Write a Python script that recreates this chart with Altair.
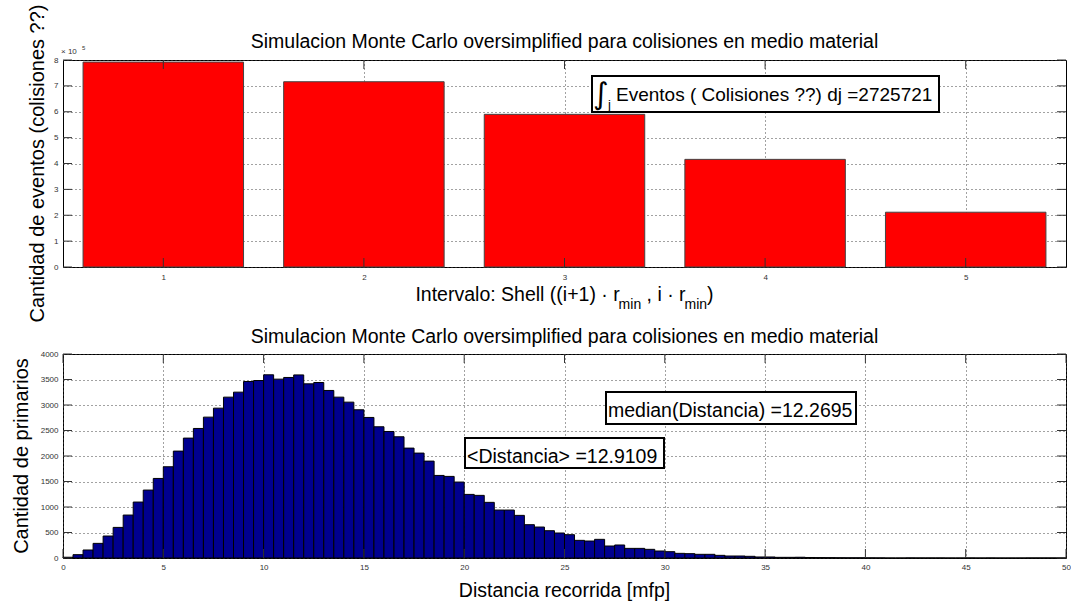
import altair as alt
import pandas as pd
import numpy as np

FONT = "Liberation Sans"

# ---------------- data ----------------
shell_index = [1, 2, 3, 4, 5]
shell_events = [792000, 716000, 590000, 416000, 211721]
top_x_ticks = [1, 2, 3, 4, 5]
top_y_ticks = [0, 100000, 200000, 300000, 400000, 500000, 600000, 700000, 800000]

hist_bin_width = 0.5
hist_counts = [
    15, 65, 157, 287, 431, 600, 842, 1097, 1332, 1560,
    1789, 2096, 2351, 2540, 2762, 2938, 3154, 3252, 3461, 3480,
    3592, 3507, 3540, 3590, 3415, 3441, 3285, 3154, 3056, 2906,
    2756, 2573, 2481, 2377, 2155, 2057, 1900, 1619, 1600, 1489,
    1247, 1228, 1091, 940, 940, 836, 653, 607, 535, 490,
    457, 346, 333, 366, 235, 255, 189, 189, 170, 137,
    124, 91, 85, 72, 72, 52, 39, 39, 33, 20,
    20, 13, 13, 15, 10, 8, 7, 5, 4, 4,
    3, 2, 0, 0, 2, 1, 1, 1, 0, 0,
    1, 0, 1, 0, 0, 0, 1, 1, 1, 0,
]
bottom_x_ticks = [0, 5, 10, 15, 20, 25, 30, 35, 40, 45, 50]
bottom_y_ticks = [0, 500, 1000, 1500, 2000, 2500, 3000, 3500, 4000]

title_text = "Simulacion Monte Carlo oversimplified para colisiones en medio material"
top_ylabel = "Cantidad de eventos (colisiones ??)"
bottom_ylabel = "Cantidad de primarios"
bottom_xlabel = "Distancia recorrida [mfp]"
integral_text = "Eventos ( Colisiones ??) dj =2725721"
mean_label = "<Distancia> =12.9109"
median_label = "median(Distancia) =12.2695"

# ---------------- layout ----------------
W = 1003
H1 = 207
H2 = 204
TICK = 9
BIG = 19.5

one = pd.DataFrame({"k": [0]})

ARIAL = {' ': 278, '(': 333, ')': 333, '+': 584, '1': 556, '·': 278, ',': 278, ':': 278,
         'I': 278, 'n': 556, 't': 278, 'e': 556, 'r': 333, 'v': 500, 'a': 556, 'l': 222,
         'o': 556, 'S': 667, 'h': 556, 'i': 222, 'm': 833}


def width(s, size):
    return sum(ARIAL.get(c, 556) for c in s) / 1000.0 * size


def txt(s, x, y, size=BIG, align="left", angle=0, font=FONT, color="black"):
    return alt.Chart(one).mark_text(
        text=s, fontSize=size, font=font, align=align, baseline="alphabetic",
        angle=angle, color=color
    ).encode(x=alt.value(x), y=alt.value(y))


def box(x0, x1, y0, y1):
    return alt.Chart(one).mark_rect(fill="white", stroke="black", strokeWidth=2).encode(
        x=alt.value(x0), x2=alt.value(x1), y=alt.value(y0), y2=alt.value(y1))


def anchor():
    # invisible marks fixing the position of the plot area in the page
    return alt.Chart(one).mark_rule(opacity=0, strokeWidth=0.01).encode(
        x=alt.value(-62), y=alt.value(-59), y2=alt.value(-50))


def inward_ticks(ticks, field_axis, scale, axis, w, h):
    d = pd.DataFrame({"t": ticks})
    if field_axis == "x":
        a = alt.Chart(d).mark_rule(color="#333", strokeWidth=1).encode(
            x=alt.X("t:Q", scale=scale, axis=axis), y=alt.value(0), y2=alt.value(TICK))
        b = alt.Chart(d).mark_rule(color="#333", strokeWidth=1).encode(
            x=alt.X("t:Q", scale=scale, axis=axis), y=alt.value(h - TICK), y2=alt.value(h))
    else:
        a = alt.Chart(d).mark_rule(color="#333", strokeWidth=1).encode(
            y=alt.Y("t:Q", scale=scale, axis=axis), x=alt.value(0), x2=alt.value(TICK))
        b = alt.Chart(d).mark_rule(color="#333", strokeWidth=1).encode(
            y=alt.Y("t:Q", scale=scale, axis=axis), x=alt.value(w - TICK), x2=alt.value(w))
    return a + b


axis_common = dict(ticks=False, domain=False, grid=True, gridDash=[1, 3], gridColor="#444",
                   labelFont=FONT, labelFontSize=8, labelColor="#333", title=None,
                   labelOverlap=False, labelFlush=False, format="d")

# ---------------- top chart ----------------
top_df = pd.DataFrame({"shell": shell_index, "events": shell_events})
xs_top = alt.Scale(domain=[0.5, 5.5], nice=False, zero=False)
ys_top = alt.Scale(domain=[0, 800000], nice=False)
xa_top = alt.Axis(values=top_x_ticks, labelPadding=6, **axis_common)
ya_top = alt.Axis(values=top_y_ticks, labelExpr="format(datum.value / 100000, 'd')",
                  labelPadding=5, **axis_common)

bars_top = alt.Chart(top_df).transform_calculate(
    x0="datum.shell - 0.4", x1="datum.shell + 0.4", base="0"
).mark_rect(color="#ff0000", stroke="#444", strokeWidth=1).encode(
    x=alt.X("x0:Q", scale=xs_top, axis=xa_top),
    x2="x1:Q",
    y=alt.Y("events:Q", scale=ys_top, axis=ya_top),
    y2="base:Q",
)

# composed x-axis title with subscripts
frags = [("Intervalo: Shell ((i+1) · r", BIG, 0), ("min", 14, 8), (" , i · r", BIG, 0),
         ("min", 14, 8), (")", BIG, 0)]
total_w = sum(width(s, sz) for s, sz, _ in frags)
cx = W / 2 - total_w / 2
xtitle_layers = []
for s, sz, dy in frags:
    lead = len(s) - len(s.lstrip(" "))
    xtitle_layers.append(txt(s.strip(" "), cx + width(" " * lead, sz), 241 + dy, size=sz))
    cx += width(s, sz)

top_layers = [
    anchor(),
    bars_top,
    inward_ticks(top_x_ticks, "x", xs_top, xa_top, W, H1),
    inward_ticks(top_y_ticks, "y", ys_top, ya_top, W, H1),
    txt(title_text, W / 2, -12.5, align="center"),
    txt(top_ylabel, -19, H1 / 2, size=20, align="center", angle=270),
    txt("× 10", -2, -6, size=8, color="#333"),
    txt("5", 19, -10, size=6, color="#333"),
    box(529, 876, 16, 52),
    txt("∫", 530, 44, size=30, font="DejaVu Sans"),
    txt("j", 545, 49, size=13),
    txt(integral_text, 553, 41, size=19),
] + xtitle_layers

top = alt.layer(*top_layers).properties(width=W, height=H1)

# ---------------- bottom chart ----------------
n = len(hist_counts)
hist_df = pd.DataFrame({
    "start": np.arange(n) * hist_bin_width,
    "end": np.arange(1, n + 1) * hist_bin_width,
    "count": hist_counts,
})
xs_bot = alt.Scale(domain=[0, 50], nice=False, zero=False)
ys_bot = alt.Scale(domain=[0, 4000], nice=False)
xa_bot = alt.Axis(values=bottom_x_ticks, labelPadding=5, **axis_common)
ya_bot = alt.Axis(values=bottom_y_ticks, labelPadding=5, **axis_common)

bars_bot = alt.Chart(hist_df).transform_calculate(base="0").mark_rect(
    color="#00008f", stroke="black", strokeWidth=1
).encode(
    x=alt.X("start:Q", scale=xs_bot, axis=xa_bot),
    x2="end:Q",
    y=alt.Y("count:Q", scale=ys_bot, axis=ya_bot),
    y2="base:Q",
)

bottom_layers = [
    anchor(),
    bars_bot,
    inward_ticks(bottom_x_ticks, "x", xs_bot, xa_bot, W, H2),
    inward_ticks(bottom_y_ticks, "y", ys_bot, ya_bot, W, H2),
    txt(title_text, W / 2, -11, align="center"),
    txt(bottom_ylabel, -35, H2 / 2, size=20, align="center", angle=270),
    txt(bottom_xlabel, W / 2, H2 + 39, align="center"),
    box(543, 793, 38, 70),
    txt(median_label, 545, 63),
    box(402, 601, 84, 114),
    txt(mean_label, 404, 109),
]
bottom = alt.layer(*bottom_layers).properties(width=W, height=H2)

chart = alt.vconcat(top, bottom, spacing=87, bounds="flush").properties(
    padding=0, background="white"
).configure_view(stroke="black", strokeWidth=1).configure_text(font=FONT)

chart.save("out.html", embed_options={"renderer": "svg", "actions": False})
